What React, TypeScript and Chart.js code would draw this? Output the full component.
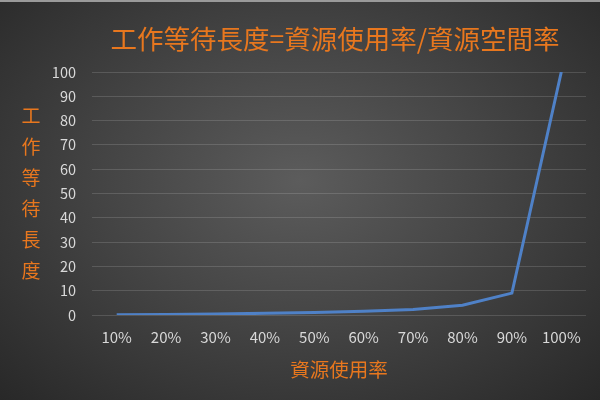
import React, { useEffect, useRef } from 'react';
import { Chart, registerables, Plugin } from 'chart.js';

Chart.register(...registerables);

const categories = ['10%', '20%', '30%', '40%', '50%', '60%', '70%', '80%', '90%', '100%'];
const waitLength = [0.11, 0.25, 0.43, 0.67, 1, 1.5, 2.3, 4, 9, 100];

const titleText = '工作等待長度=資源使用率/資源空間率';
const yTitleChars = ['工', '作', '等', '待', '長', '度'];
const xTitleText = '資源使用率';

const ORANGE = '#e8771e';
const FONT = '"Noto Sans CJK TC", "Noto Sans", sans-serif';

// chart title, x title and the vertical y title, placed like the original
const titles: Plugin<'line'> = {
  id: 'titles',
  afterDraw(chart) {
    const { ctx, chartArea } = chart;
    ctx.save();
    ctx.fillStyle = ORANGE;
    ctx.textAlign = 'center';
    ctx.textBaseline = 'middle';

    ctx.font = `26.5px ${FONT}`;
    ctx.fillText(titleText, 335, 37);

    ctx.font = `19.5px ${FONT}`;
    ctx.fillText(xTitleText, (chartArea.left + chartArea.right) / 2, 368);

    ctx.font = `19px ${FONT}`;
    const mid = (chartArea.top + chartArea.bottom) / 2;
    const step = 31;
    const start = mid - ((yTitleChars.length - 1) * step) / 2;
    yTitleChars.forEach((c, i) => ctx.fillText(c, 31, start + i * step));
    ctx.restore();
  },
};

export default function App() {
  const canvasRef = useRef<HTMLCanvasElement>(null);
  const chartRef = useRef<Chart | null>(null);

  useEffect(() => {
    document.body.style.margin = '0';
    const canvas = canvasRef.current;
    if (!canvas) return;
    if (chartRef.current) chartRef.current.destroy();

    chartRef.current = new Chart(canvas, {
      type: 'line',
      data: {
        labels: categories,
        datasets: [
          {
            data: waitLength,
            borderColor: '#4f81c7',
            borderWidth: 3,
            pointRadius: 0,
            tension: 0,
            fill: false,
          },
        ],
      },
      options: {
        responsive: true,
        maintainAspectRatio: false,
        animation: false,
        layout: { padding: { left: 0, right: 14, top: 70, bottom: 0 } },
        plugins: {
          legend: { display: false },
          tooltip: { enabled: false },
        },
        scales: {
          x: {
            offset: true,
            grid: { display: false },
            border: { display: false },
            afterFit: (scale) => {
              scale.height = 85;
            },
            ticks: {
              color: '#d9d9d9',
              font: { family: FONT, size: 15 },
              padding: 5,
              maxRotation: 0,
            },
          },
          y: {
            min: 0,
            max: 100,
            grid: { color: 'rgba(255,255,255,0.14)', lineWidth: 1, drawTicks: false },
            border: { display: false },
            afterFit: (scale) => {
              scale.width = 92;
            },
            ticks: {
              stepSize: 10,
              color: '#d9d9d9',
              font: { family: FONT, size: 14.5 },
              padding: 16,
            },
          },
        },
      },
      plugins: [titles],
    });

    return () => {
      if (chartRef.current) chartRef.current.destroy();
    };
  }, []);

  return (
    <div
      style={{
        width: 600,
        height: 400,
        boxSizing: 'border-box',
        borderTop: '2px solid #9a9a9a',
        background: 'radial-gradient(ellipse at 50% 45%, #5c5c5c 0%, #454545 45%, #282828 100%)',
        position: 'relative',
      }}
    >
      <canvas ref={canvasRef} />
    </div>
  );
}
